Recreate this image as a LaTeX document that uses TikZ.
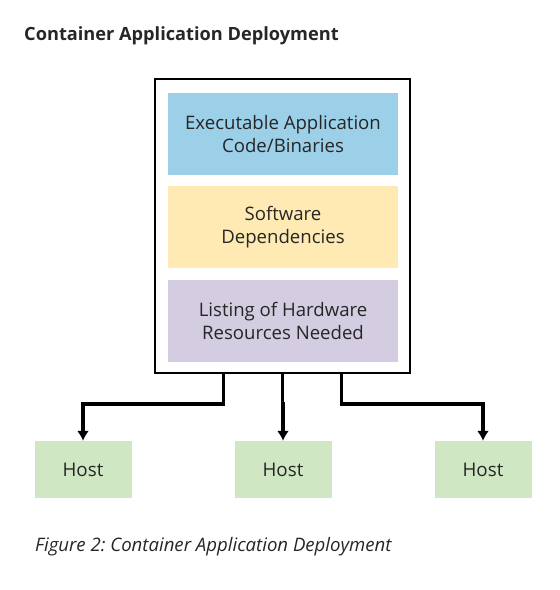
\documentclass[tikz,border=0pt]{standalone}
\usepackage{fontspec}
\setmainfont{Open Sans}
\usetikzlibrary{positioning,arrows.meta}
\frenchspacing

\definecolor{bleu}{HTML}{9CCFE8}
\definecolor{jaune}{HTML}{FFEAB4}
\definecolor{mauve}{HTML}{D4CCE1}
\definecolor{vert}{HTML}{D0E7C4}
\definecolor{texte}{HTML}{262626}

\begin{document}
\begin{tikzpicture}[x=1pt, y=-1pt, text=texte,
    bloc/.style={minimum width=230pt, minimum height=82pt, align=center, inner sep=0pt,
                 font=\fontsize{18.6}{23}\selectfont},
    hote/.style={fill=vert, minimum width=97pt, minimum height=57pt, inner sep=0pt,
                 font=\fontsize{18.8}{23}\selectfont},
    fleche/.style={-{Latex[length=10pt, width=12pt]}, line width=3.2pt}]

    % Dimensions de la page
    \useasboundingbox (0,0) rectangle (560,590);

    % Titre
    \node[anchor=base west, inner sep=0pt, font=\bfseries\fontsize{18.2}{20}\selectfont] (titre) at (24,40)
        {Container Application Deployment};

    % ==============================================
    % 1. CONTENEUR ET SES TROIS BLOCS
    % ==============================================
    \node[draw, line width=2pt, minimum width=255pt, minimum height=294pt] (conteneur) at (282.5,226) {};

    \node[bloc, fill=bleu]  (code) at (283,134) {Executable Application\\Code/Binaries};
    \node[bloc, fill=jaune] (deps) at (283,227) {Software\\Dependencies};
    \node[bloc, fill=mauve] (materiel) at (283,321) {Listing of Hardware\\Resources Needed};

    % ==============================================
    % 2. HÔTES ET FLÈCHES DE DÉPLOIEMENT
    % ==============================================
    \foreach \x/\d [count=\i] in {83/-59, 283/0, 483/59} {
        \node[hote] (h\i) at (\x,469.5) {Host};
        \draw[fleche] ([xshift=\d pt]conteneur.south) -- ++(0,30) -| (h\i.north);
    }

    % Légende
    \node[anchor=base west, inner sep=0pt, font=\itshape\fontsize{18.6}{20}\selectfont] (legende) at (35,551)
        {Figure 2: Container Application Deployment};

\end{tikzpicture}
\end{document}
